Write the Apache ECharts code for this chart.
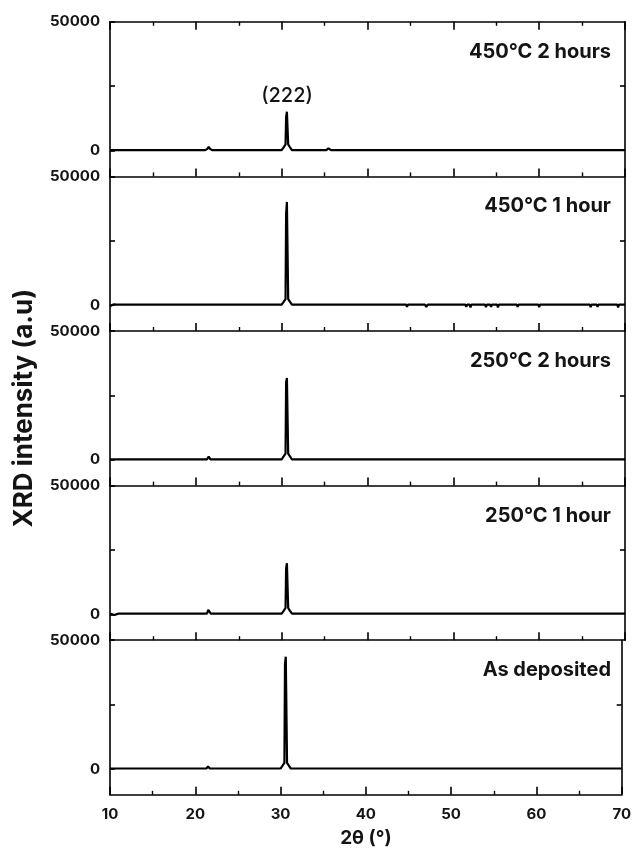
<!DOCTYPE html>
<html>
<head>
<meta charset="utf-8">
<script src="https://cdn.jsdelivr.net/npm/echarts@6/dist/echarts.min.js"></script>
<style>
  html, body { margin: 0; padding: 0; background: #fff; }
  #chart { width: 634px; height: 849px; }
</style>
</head>
<body>
<div id="chart"></div>
<script>
// Stacked XRD patterns, top to bottom, one panel per sample.
const panelLabels = ['450°C 2 hours', '450°C 1 hour', '250°C 2 hours', '250°C 1 hour', 'As deposited'];

// 2θ axis (degrees)
const xMin = 10, xMax = 70, xStep = 10;
// intensity axis (counts) for every panel
const yMin = -10000, yMax = 50000;
const yLabelValues = [0, 50000];
const yTickValues = [0, 25000, 50000];
const peakLabel = '(222)';
const peakLabelAt = [30.62, 15100];

// [2θ, intensity] pairs per sample
const scan450C2h = [
  [10, 200], [21.1, 200], [21.35, 700], [21.5, 1500], [21.65, 700], [21.9, 200],
  [30.0, 200], [30.25, 1400], [30.45, 2400], [30.52, 13100], [30.58, 13100], [30.61, 15100], [30.7, 15100], [30.76, 2400], [30.95, 1400], [31.2, 200],
  [35.2, 200], [35.45, 900], [35.55, 1300], [35.75, 200],
  [41.7, 200], [41.85, 600], [42.0, 200],
  [60.6, 200], [60.75, 600], [60.9, 200],
  [63.6, 200], [63.75, 500], [63.9, 200], [70, 200]
];

const scan450C1h = [
  [10, -400], [10.4, 300], [10.8, 200], [21.3, 200], [21.5, 600], [21.7, 200],
  [30.0, 200], [30.25, 1400], [30.45, 2400], [30.52, 35600], [30.58, 35600], [30.61, 40100], [30.7, 40100], [30.76, 2400], [30.95, 1400], [31.2, 200],
  [41.7, 200], [41.85, 500], [42.0, 200],
  [44.5, 200], [44.6, -600], [44.7, 200],
  [46.7, 200], [46.85, -700], [47.0, 200], [47.2, -500], [47.35, 200],
  [51.4, 200], [51.5, -600], [51.6, 200], [51.9, 200], [52.0, -800], [52.1, 200], [52.5, 200], [52.6, -500], [52.7, 200],
  [53.7, 200], [53.8, -700], [53.9, 200], [54.3, 200], [54.4, -600], [54.5, 200], [55.1, 200], [55.2, -800], [55.3, 200],
  [57.4, 200], [57.5, -600], [57.6, 200],
  [59.9, 200], [60.0, -700], [60.1, 200],
  [63.5, 200], [63.6, 600], [63.7, 200],
  [65.9, 200], [66.0, -700], [66.1, 200], [66.7, 200], [66.8, -600], [66.9, 200],
  [69.1, 200], [69.2, -800], [69.3, 200], [70, 200]
];

const scan250C2h = [
  [10, 200], [21.3, 200], [21.5, 1300], [21.7, 200],
  [30.0, 200], [30.25, 1400], [30.45, 2400], [30.52, 30100], [30.58, 30100], [30.61, 31800], [30.7, 31800], [30.76, 2400], [30.95, 1400], [31.2, 200],
  [35.3, 200], [35.5, 700], [35.7, 200],
  [41.7, 200], [41.85, 500], [42.0, 200],
  [60.5, 200], [60.6, 500], [60.75, 200],
  [63.6, 200], [63.7, 500], [63.85, 200], [70, 200]
];

const scan250C1h = [
  [10, 300], [10.5, -200], [11, 300], [13.9, 300], [14.0, -300], [14.1, 300], [14.4, 300], [14.5, -300], [14.6, 300],
  [16.3, 300], [16.4, -300], [16.5, 300], [20.6, 300], [20.7, -200], [20.8, 300],
  [21.3, 300], [21.45, 1800], [21.6, 2200], [21.75, 300],
  [23.9, 300], [24.0, -300], [24.1, 300], [24.7, 300], [24.8, -400], [24.9, 300], [25.5, 300], [25.6, -300], [25.7, 300],
  [26.4, 300], [26.5, -400], [26.6, 300], [27.2, 300], [27.3, -300], [27.4, 300], [28.1, 300], [28.2, -300], [28.3, 300],
  [30.0, 300], [30.25, 1500], [30.45, 2500], [30.52, 17900], [30.58, 17900], [30.61, 19900], [30.7, 19900], [30.76, 2500], [30.95, 1500], [31.2, 300],
  [32.2, 300], [32.3, -300], [32.4, 300], [32.9, 300], [33.0, -400], [33.1, 300], [33.7, 300], [33.8, -300], [33.9, 300],
  [34.5, 300], [34.6, -200], [34.7, 300], [35.3, 300], [35.5, 800], [35.7, 300],
  [37.7, 300], [37.8, 700], [37.9, 300], [41.7, 300], [41.9, 800], [42.1, 300], [43.8, 300], [43.9, 700], [44.0, 300],
  [45.8, 300], [45.9, 800], [46.0, 300], [51.0, 300], [51.1, 800], [51.2, 300], [52.8, 300], [52.9, 700], [53.0, 300],
  [55.9, 300], [56.0, 800], [56.1, 300], [60.6, 300], [60.7, 700], [60.8, 300], [63.7, 300], [63.8, 800], [63.9, 300],
  [65.1, 300], [65.2, 700], [65.3, 300], [70, 300]
];

const scanAsDeposited = [
  [10, 200], [21.3, 200], [21.5, 1000], [21.7, 200],
  [30.0, 200], [30.25, 1400], [30.45, 2400], [30.52, 40800], [30.58, 40800], [30.61, 43600], [30.7, 43600], [30.76, 2400], [30.95, 1400], [31.2, 200],
  [35.4, 200], [35.55, 600], [35.7, 200],
  [41.8, 200], [41.95, 700], [42.1, 200],
  [63.6, 200], [63.75, 800], [63.9, 200], [70, 200]
];

const scans = [scan450C2h, scan450C1h, scan250C2h, scan250C1h, scanAsDeposited];

// layout
const FONT = 'Inter';
const INK = '#000';
const TXT = '#141414';
const PLOT_LEFT = 110, PLOT_RIGHT = 9;
const PANEL_TOP = 21.8, PANEL_H = 154.6;
const last = scans.length - 1;

const axisLine = { show: true, onZero: false, lineStyle: { color: INK, width: 1.6 } };
const plainNumber = v => String(v);

const grid = scans.map((_, i) => ({
  left: PLOT_LEFT, right: PLOT_RIGHT, top: PANEL_TOP + i * PANEL_H, height: PANEL_H
}));

const xAxis = scans.map((_, i) => ({
  type: 'value', gridIndex: i, min: xMin, max: xMax, interval: xStep, position: 'bottom',
  axisLine,
  axisTick: { show: true, inside: true, length: 8, lineStyle: { color: INK, width: 1.6 } },
  minorTick: { show: true, splitNumber: 2, length: 4, lineStyle: { color: INK, width: 1.4 } },
  axisLabel: { show: i === last, margin: 12, formatter: plainNumber, fontFamily: FONT, fontWeight: 'bold', fontSize: 15, color: TXT },
  splitLine: { show: false }, minorSplitLine: { show: false },
  name: i === last ? '2θ (°)' : '', nameLocation: 'middle', nameGap: 34,
  nameTextStyle: { fontFamily: FONT, fontWeight: 'bold', fontSize: 19, color: TXT }
}));
xAxis.push({
  type: 'value', gridIndex: 0, min: xMin, max: xMax, interval: xStep, position: 'top',
  axisLine,
  axisTick: { show: true, inside: true, length: 8, lineStyle: { color: INK, width: 1.6 } },
  minorTick: { show: true, splitNumber: 2, length: 4, lineStyle: { color: INK, width: 1.4 } },
  axisLabel: { show: false }, splitLine: { show: false }
});

const yAxis = [];
scans.forEach((_, i) => {
  yAxis.push({
    type: 'value', gridIndex: i, min: yMin, max: yMax, interval: 10000, position: 'left',
    axisLine,
    axisTick: { show: true, inside: true, length: 5, customValues: yTickValues, lineStyle: { color: INK, width: 1.6 } },
    axisLabel: { customValues: yLabelValues, formatter: plainNumber, margin: 10, fontFamily: FONT, fontWeight: 'bold', fontSize: 15, color: TXT },
    splitLine: { show: false },
    name: i === 2 ? 'XRD intensity (a.u)' : '', nameLocation: 'middle', nameGap: 73, nameRotate: 90,
    nameTextStyle: { fontFamily: FONT, fontWeight: 'bold', fontSize: 26, color: TXT }
  });
});
scans.forEach((_, i) => {
  yAxis.push({
    type: 'value', gridIndex: i, min: yMin, max: yMax, interval: 10000, position: 'right',
    axisLine,
    axisTick: { show: true, inside: true, length: 5, customValues: [25000], lineStyle: { color: INK, width: 1.6 } },
    axisLabel: { show: false }, splitLine: { show: false }
  });
});

const series = scans.map((data, i) => ({
  type: 'line', xAxisIndex: i, yAxisIndex: i, data,
  showSymbol: false, symbol: 'none', silent: true,
  lineStyle: { color: INK, width: 2.2 },
  markPoint: i === 0 ? {
    symbol: 'circle', symbolSize: 1, itemStyle: { color: 'rgba(0,0,0,0)' },
    label: { show: true, position: 'top', distance: 5, formatter: peakLabel,
      fontFamily: FONT, fontWeight: 500, fontSize: 20, color: TXT },
    data: [{ coord: peakLabelAt }]
  } : undefined
}));

const title = panelLabels.map((t, i) => ({
  text: t, right: 23, top: PANEL_TOP + i * PANEL_H + 20, padding: 0,
  textStyle: { fontFamily: FONT, fontWeight: 'bold', fontSize: 20, color: TXT }
}));

const chart = echarts.init(document.getElementById('chart'), null, { renderer: 'canvas' });
chart.setOption({ animation: false, backgroundColor: '#fff', title, grid, xAxis, yAxis, series });
</script>
</body>
</html>
